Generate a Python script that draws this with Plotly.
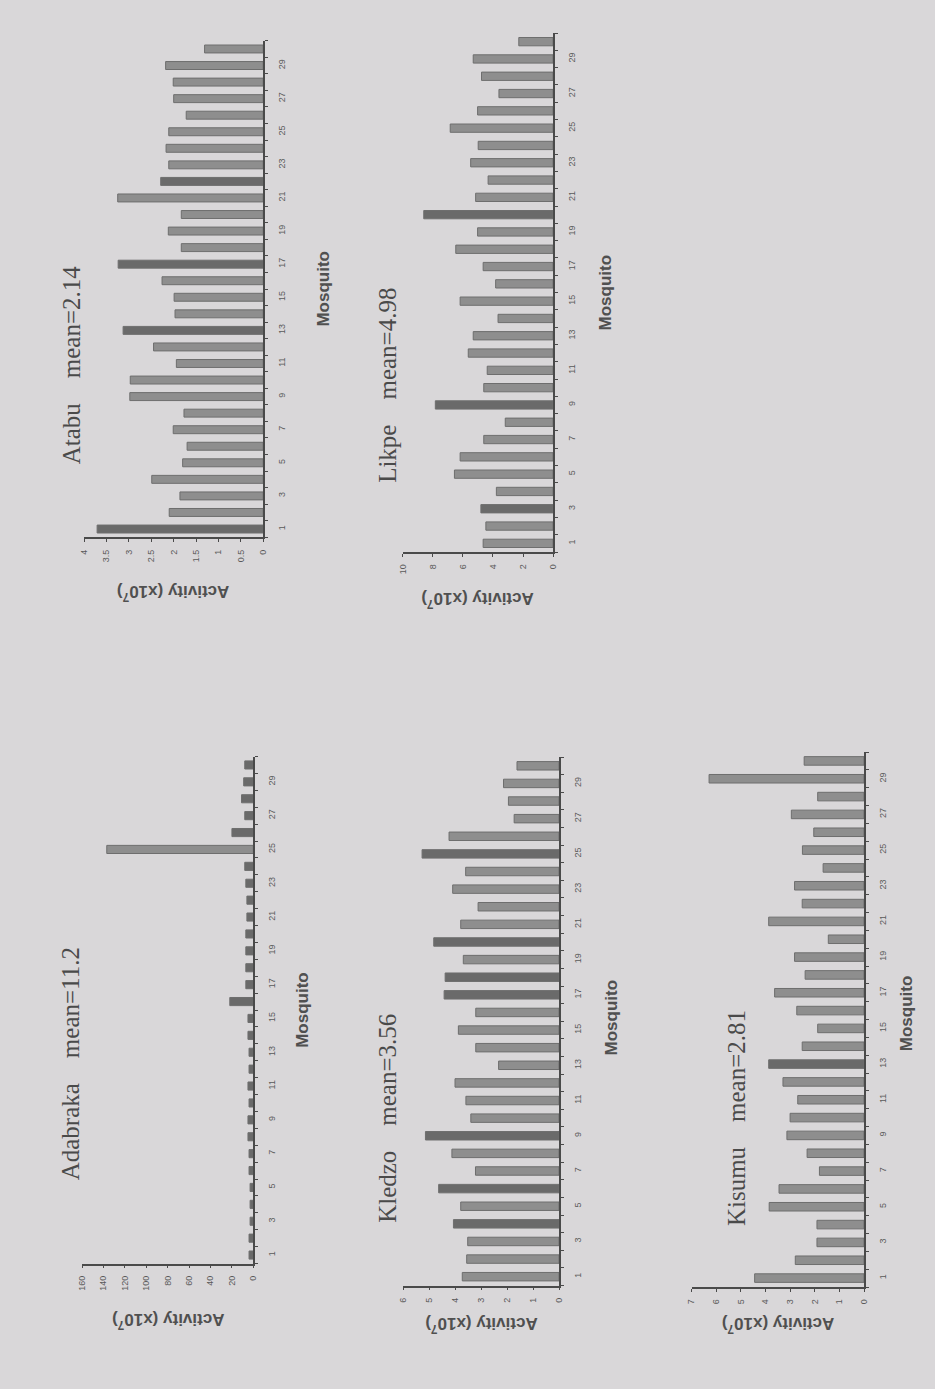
import plotly.graph_objects as go

W, H = 935, 1389

# Mosquito index (x-axis categories of every panel)
mosquito = list(range(1, 31))
odd_ticks = list(range(1, 30, 2))

# Activity (x10^7) per mosquito, one list per site
atabu = [3.71, 2.10, 1.86, 2.49, 1.80, 1.70, 2.01, 1.77, 2.98, 2.97,
         1.94, 2.45, 3.13, 1.97, 1.99, 2.26, 3.24, 1.83, 2.12, 1.83,
         3.25, 2.29, 2.11, 2.17, 2.11, 1.72, 2.00, 2.01, 2.18, 1.31]
likpe = [4.65, 4.47, 4.80, 3.77, 6.56, 6.18, 4.61, 3.18, 7.83, 4.61,
         4.38, 5.64, 5.31, 3.66, 6.18, 3.82, 4.65, 6.47, 5.02, 8.60,
         5.15, 4.32, 5.48, 4.98, 6.84, 5.02, 3.60, 4.76, 5.31, 2.28]
adabraka = [4, 4, 3, 3, 3, 4, 4, 5, 5, 4,
            5, 4, 4, 5, 5, 22, 7, 7, 7, 7,
            6, 6, 7, 8, 137, 20, 8, 11, 9, 8]
kledzo = [3.73, 3.56, 3.52, 4.07, 3.79, 4.64, 3.22, 4.13, 5.15, 3.40,
          3.59, 4.01, 2.33, 3.21, 3.88, 3.21, 4.43, 4.39, 3.69, 4.83,
          3.79, 3.12, 4.10, 3.60, 5.28, 4.24, 1.73, 1.95, 2.14, 1.62]
kisumu = [4.44, 2.79, 1.91, 1.91, 3.85, 3.45, 1.81, 2.31, 3.13, 3.00,
          2.69, 3.29, 3.87, 2.51, 1.88, 2.73, 3.63, 2.39, 2.82, 1.45,
          3.87, 2.51, 2.82, 1.66, 2.50, 2.04, 2.95, 1.88, 6.29, 2.43]

sites = ["Atabu", "Likpe", "Adabraka", "Kledzo", "Kisumu"]
means = ["2.14", "4.98", "11.2", "3.56", "2.81"]
values = [atabu, likpe, adabraka, kledzo, kisumu]
axis_max = [4, 10, 160, 6, 7]
axis_step = [0.5, 2, 20, 1, 1]

# Panel placement in page pixels: value-axis max edge, zero edge, top, bottom
panels = [
    dict(x0=80, x1=261, yt=40.7, yb=537.3,
         title=(67, 365), mos=(322, 289), act=(170, 593)),
    dict(x0=402, x1=554, yt=33, yb=552,
         title=(386, 385), mos=(608, 292), act=(478, 600)),
    dict(x0=78, x1=251, yt=756.5, yb=1263.5,
         title=(66, 1064), mos=(300, 1010), act=(165, 1321)),
    dict(x0=402.7, x1=560, yt=757, yb=1285.5,
         title=(386, 1118), mos=(613, 1017), act=(482, 1325)),
    dict(x0=694, x1=868.3, yt=752, yb=1287,
         title=(739, 1118), mos=(911, 1013), act=(782, 1325)),
]

# Darker-printed bars in each panel (1-based mosquito numbers)
dark_bars = [
    {1, 13, 17, 22},
    {3, 9, 20},
    set(range(1, 25)) | set(range(26, 31)),
    {4, 6, 9, 17, 18, 20, 25},
    {13},
]

BG = "#d9d7d9"
BAR = "#8e8e8e"
BAR_DARK = "#6a6a6a"
EDGE = "#6e6e6e"
AXIS = "#4a4a4a"
TXT = "#5a5a5a"


def px_x(x):
    return x / W


def px_y(y):
    return 1 - y / H


fig = go.Figure()
annotations = []

for i, (site, mean, vals, vmax, step, p, dark) in enumerate(
        zip(sites, means, values, axis_max, axis_step, panels, dark_bars)):
    k = "" if i == 0 else str(i + 1)
    colors = [BAR_DARK if m in dark else BAR for m in mosquito]
    fig.add_trace(go.Bar(
        x=vals, y=mosquito, orientation="h",
        xaxis="x" + k, yaxis="y" + k,
        marker=dict(color=colors, line=dict(color=EDGE, width=1)),
        showlegend=False, hoverinfo="x+y",
    ))
    fig.layout["xaxis" + k] = dict(
        domain=[px_x(p["x0"]), px_x(p["x1"])],
        anchor="y" + k, range=[vmax, 0], dtick=step, tick0=0,
        showline=True, linecolor=AXIS, linewidth=1.5,
        ticks="outside", ticklen=3, tickcolor=AXIS,
        tickangle=-90, ticklabelstandoff=4,
        tickfont=dict(family="Liberation Sans, Arial", size=9, color=TXT),
        showgrid=False, zeroline=False, fixedrange=True,
    )
    fig.layout["yaxis" + k] = dict(
        domain=[px_y(p["yb"]), px_y(p["yt"])],
        anchor="x" + k, side="right", range=[0.5, 30.5],
        tickmode="array", tickvals=odd_ticks, ticks="",
        minor=dict(tickvals=[m + 0.5 for m in range(0, 31)],
                   ticks="outside", ticklen=3, tickcolor=AXIS),
        showline=True, linecolor=AXIS, linewidth=1.5,
        tickangle=-90, ticklabelstandoff=9,
        tickfont=dict(family="Liberation Sans, Arial", size=9, color=TXT),
        showgrid=False, zeroline=False, fixedrange=True,
    )
    # Panel title, axis titles
    annotations.append(dict(
        text=site + "\u00a0\u00a0\u00a0\u00a0mean=" + mean,
        x=px_x(p["title"][0]), y=px_y(p["title"][1]),
        xref="paper", yref="paper", showarrow=False, textangle=-90,
        xanchor="center", yanchor="middle",
        font=dict(family="Liberation Serif, Times New Roman", size=25,
                  color="#4a4a4a"),
    ))
    annotations.append(dict(
        text="<b>Mosquito</b>",
        x=px_x(p["mos"][0]), y=px_y(p["mos"][1]),
        xref="paper", yref="paper", showarrow=False, textangle=-90,
        xanchor="center", yanchor="middle",
        font=dict(family="Liberation Sans, Arial", size=17, color="#505050"),
    ))
    annotations.append(dict(
        text="<b>Activity (x10<sup>7</sup>)</b>",
        x=px_x(p["act"][0]), y=px_y(p["act"][1]),
        xref="paper", yref="paper", showarrow=False, textangle=180,
        xanchor="center", yanchor="middle",
        font=dict(family="Liberation Sans, Arial", size=17, color="#505050"),
    ))

fig.update_layout(
    width=W, height=H,
    margin=dict(l=0, r=0, t=0, b=0),
    paper_bgcolor=BG, plot_bgcolor=BG,
    bargap=0.52,
    annotations=annotations,
)

fig.write_html("out.html")
